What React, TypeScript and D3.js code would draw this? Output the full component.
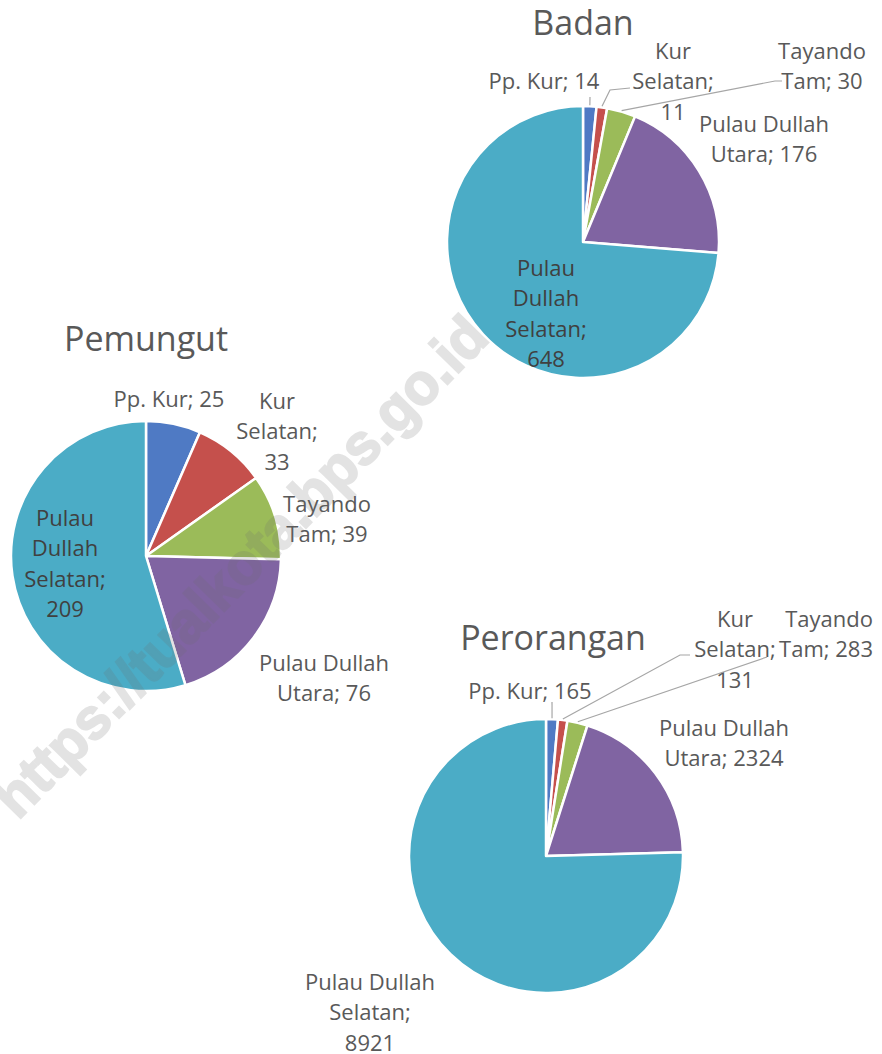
import React from "react";
import * as d3 from "d3";

const categories = ["Pp. Kur", "Kur Selatan", "Tayando Tam", "Pulau Dullah Utara", "Pulau Dullah Selatan"];
const badanValues = [14, 11, 30, 176, 648];
const pemungutValues = [25, 33, 39, 76, 209];
const peroranganValues = [165, 131, 283, 2324, 8921];
const chartTitles = ["Badan", "Pemungut", "Perorangan"];
const sliceColors = ["#4F7AC4", "#C5504C", "#9BBB59", "#8064A2", "#4BACC6"];
const watermarkText = "https://tualkota.bps.go.id";

type LabelLayout = {
  dx: number;
  dy: number;
  breaks: number[];
  anchor?: "start" | "middle" | "end";
  inside?: boolean;
  leader?: [number, number][];
};

type ChartLayout = { cx: number; cy: number; r: number; titleDx: number; titleDy: number; labels: LabelLayout[] };

const layouts: ChartLayout[] = [
  {
    cx: 583, cy: 242, r: 136, titleDx: 0, titleDy: -220,
    labels: [
      { dx: -39, dy: -162, breaks: [3], leader: [[7, -145]] },
      { dx: 90, dy: -192, breaks: [1, 1, 1], leader: [[27, -152], [47, -154]] },
      { dx: 239, dy: -192, breaks: [1, 2], leader: [[192, -161], [199, -161]] },
      { dx: 181, dy: -119, breaks: [2, 2] },
      { dx: -37, dy: 25, breaks: [1, 1, 1, 1], inside: true },
    ],
  },
  {
    cx: 146, cy: 556, r: 135, titleDx: 0, titleDy: -218,
    labels: [
      { dx: 23, dy: -158, breaks: [3] },
      { dx: 131, dy: -156, breaks: [1, 1, 1] },
      { dx: 181, dy: -53, breaks: [1, 2] },
      { dx: 178, dy: 106, breaks: [2, 2] },
      { dx: -81, dy: -39, breaks: [1, 1, 1, 1], inside: true },
    ],
  },
  {
    cx: 546, cy: 856, r: 137, titleDx: 7, titleDy: -219,
    labels: [
      { dx: -16, dy: -166, breaks: [3], leader: [[6, -154]] },
      { dx: 189, dy: -238, breaks: [1, 1, 1], leader: [[134, -201], [144, -201]] },
      { dx: 327, dy: -238, breaks: [1, 2], anchor: "end", leader: [[221, -199]] },
      { dx: 178, dy: -129, breaks: [2, 2] },
      { dx: -176, dy: 125, breaks: [2, 1, 1] },
    ],
  },
];

const seriesValues = [badanValues, pemungutValues, peroranganValues];

const FONT = "'Open Sans', 'Noto Sans', sans-serif";
const LABEL_SIZE = 22;
const LINE_H = 30.3;
const TEXT_COLOR = "#595959";

function splitLines(text: string, breaks: number[]): string[] {
  const words = text.split(" ");
  const lines: string[] = [];
  let i = 0;
  for (const b of breaks) {
    lines.push(words.slice(i, i + b).join(" "));
    i += b;
  }
  return lines;
}

function Pie({ values, title, layout }: { values: number[]; title: string; layout: ChartLayout }) {
  const pie = d3.pie<number>().sort(null).value((d) => d);
  const arcs = pie(values);
  const arc = d3.arc<d3.PieArcDatum<number>>().innerRadius(0).outerRadius(layout.r);
  const { cx, cy, r } = layout;
  return (
    <g transform={`translate(${cx},${cy})`}>
      {arcs.map((a, i) => (
        <path key={i} d={arc(a) || ""} fill={sliceColors[i]} stroke="#ffffff" strokeWidth={2.5} strokeLinejoin="round" />
      ))}
      <text x={layout.titleDx} y={layout.titleDy} textAnchor="middle" dominantBaseline="central"
        fontFamily={FONT} fontSize={34} fill={TEXT_COLOR}>{title}</text>
      {arcs.map((a, i) => {
        const lab = layout.labels[i];
        const mid = (a.startAngle + a.endAngle) / 2;
        const sx = Math.sin(mid) * (r + 1);
        const sy = -Math.cos(mid) * (r + 1);
        const lines = splitLines(`${categories[i]}; ${values[i]}`, lab.breaks);
        return (
          <g key={i}>
            {lab.leader && (
              <polyline
                points={[[sx, sy], ...lab.leader].map((p) => p.join(",")).join(" ")}
                fill="none" stroke="#a6a6a6" strokeWidth={1.2} />
            )}
            <text textAnchor={lab.anchor || "middle"} fontFamily={FONT} fontSize={LABEL_SIZE}
              fill={lab.inside ? "#404040" : TEXT_COLOR} dominantBaseline="central">
              {lines.map((ln, k) => (
                <tspan key={k} x={lab.dx} y={lab.dy + k * LINE_H}>{ln}</tspan>
              ))}
            </text>
          </g>
        );
      })}
    </g>
  );
}

export default function App() {
  return (
    <svg width={882} height={1054} style={{ position: "absolute", left: 0, top: 0, background: "#ffffff" }}>
      <rect width={882} height={1054} fill="#ffffff" />
      {layouts.map((l, i) => (
        <Pie key={i} values={seriesValues[i]} title={chartTitles[i]} layout={l} />
      ))}
      <g opacity={0.19}>
        <text transform="translate(240,566) rotate(-45.5)" textAnchor="middle" dominantBaseline="central"
          fontFamily="'Liberation Sans', Arial, sans-serif" fontWeight="bold" fontSize={58}
          textLength={675} lengthAdjust="spacingAndGlyphs"
          fill="rgb(110,110,110)" stroke="rgb(110,110,110)" strokeWidth={2}>{watermarkText}</text>
      </g>
    </svg>
  );
}
